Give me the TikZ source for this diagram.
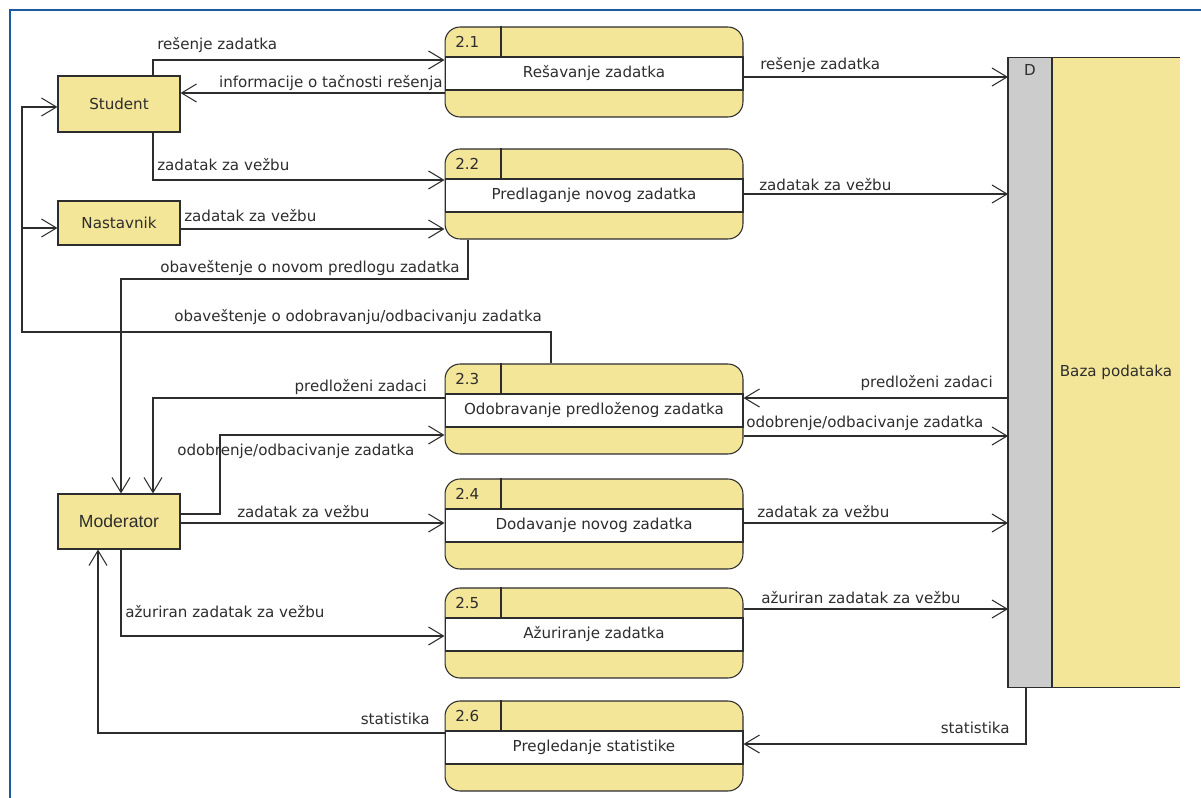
\documentclass[tikz,border=0pt]{standalone}
\usepackage{fontspec}
\setmainfont{DejaVu Sans}
\newfontfamily\modfont{Liberation Sans}
\usetikzlibrary{arrows.meta}
\definecolor{boxyellow}{RGB}{244,230,152}
\definecolor{storegray}{RGB}{204,204,204}
\definecolor{frameblue}{RGB}{26,90,160}
\definecolor{linegray}{RGB}{45,45,45}

\begin{document}
\begin{tikzpicture}[x=0.02cm,y=-0.02cm,>={Straight Barb[length=3mm,width=3.6mm]},
  color=linegray,line width=0.6pt,font=\fontsize{8.6}{10}\selectfont,
  every node/.style={inner sep=1pt},
  ent/.style={draw,fill=boxyellow,minimum width=2.44cm},
  proc/.style={draw,fill=boxyellow,rounded corners=0.3cm,minimum width=5.96cm,minimum height=1.8cm},
  band/.style={draw,fill=white,minimum width=5.96cm,minimum height=0.66cm}]
\useasboundingbox (0,0) rectangle (1201,798);
\draw[frameblue,line width=1.7pt] (10,798)--(10,10)--(1201,10);

% external entities
\node[ent,minimum height=1.12cm] (stud) at (119,104) {Student};
\node[ent,minimum height=0.88cm] (nast) at (119,223) {Nastavnik};
\node[ent,minimum height=1.1cm,font=\modfont\fontsize{10}{12}\selectfont] (mod) at (119,521.5) {Moderator};

% processes
\foreach \n/\ytop/\ptext in {1/27/Rešavanje zadatka,2/149/Predlaganje novog zadatka,
  3/364/Odobravanje predloženog zadatka,4/479/Dodavanje novog zadatka,
  5/588/Ažuriranje zadatka,6/701/Pregledanje statistike}
{
    \node[proc] (p\n) at (594,\ytop+45) {};
    \node[band] (t\n) at (594,\ytop+46.5) {\ptext};
    \node[anchor=west] (n\n) at (453,\ytop+15) {2.\n};
    \draw (p\n.north -| 501,0)--(t\n.north -| 501,0);
}

% data store
\node[draw,fill=storegray,minimum width=0.88cm,minimum height=12.62cm,inner sep=0,outer sep=0] (db) at (1030,372.5) {};
\node[fill=boxyellow,minimum width=2.56cm,minimum height=12.62cm,inner sep=0,outer sep=0,anchor=north west] (dbf) at (db.north east) {Baza podataka};
\draw (dbf.north west)--(dbf.north east);
\draw (dbf.south west)--(dbf.south east);
\draw (db.north east)--(db.south east);
\node (dl) at (db.north)[below=3pt]{D};

% flows
\draw[->] (stud.north -| 153,0) |- (p1.west |- 0,60);
\draw[->] (p1.west |- 0,93)--(stud.east |- 0,93);
\draw[->] (stud.south -| 153,0) |- (p2.west |- 0,180);
\draw[->] (nast.east |- 0,229)--(p2.west |- 0,229);
\draw[->] (p2.south -| 468,0) |- (121,279)--(mod.north -| 121,0);
\draw[->] (p3.north -| 551,0) |- (22,332) |- (stud.west |- 0,107);
\coordinate (j1) at (22,228);
\draw[->] (j1)--(nast.west |- 0,228);
\draw[->] (p3.west |- 0,398) -| (mod.north -| 153,0);
\draw[->] (mod.east |- 0,514) -| (220,435)--(p3.west |- 0,435);
\draw[->] (mod.east |- 0,523)--(p4.west |- 0,523);
\draw[->] (mod.south -| 121,0) |- (p5.west |- 0,636);
\draw[->] (p6.west |- 0,733) -| (mod.south -| 98,0);

\draw[->] (p1.east |- 0,77)--(db.west |- 0,77);
\draw[->] (p2.east |- 0,194)--(db.west |- 0,194);
\draw[->] (db.west |- 0,398)--(p3.east |- 0,398);
\draw[->] (p3.east |- 0,436)--(db.west |- 0,436);
\draw[->] (p4.east |- 0,523)--(db.west |- 0,523);
\draw[->] (p5.east |- 0,609)--(db.west |- 0,609);
\draw[->] (db.south -| 1026,0) |- (p6.east |- 0,744);

% flow labels
\node (l1) at (155,45)[right]{rešenje zadatka};
\node (l2) at (445,83)[left]{informacije o tačnosti rešenja};
\node (l3) at (155,165)[right]{zadatak za vežbu};
\node (l4) at (182,216)[right]{zadatak za vežbu};
\node (l5) at (462,268)[left]{obaveštenje o novom predlogu zadatka};
\node (l6) at (172,317)[right]{obaveštenje o odobravanju/odbacivanju zadatka};
\node (l7) at (429,387)[left]{predloženi zadaci};
\node (l8) at (175,451)[right]{odobrenje/odbacivanje zadatka};
\node (l9) at (235,512)[right]{zadatak za vežbu};
\node (l10) at (123,612)[right]{ažuriran zadatak za vežbu};
\node (l11) at (432,719)[left]{statistika};
\node (l12) at (758,65)[right]{rešenje zadatka};
\node (l13) at (757,185)[right]{zadatak za vežbu};
\node (l14) at (995,383)[left]{predloženi zadaci};
\node (l15) at (744,423)[right]{odobrenje/odbacivanje zadatka};
\node (l16) at (755,512)[right]{zadatak za vežbu};
\node (l17) at (759,598)[right]{ažuriran zadatak za vežbu};
\node (l18) at (1012,728)[left]{statistika};
\end{tikzpicture}
\end{document}
